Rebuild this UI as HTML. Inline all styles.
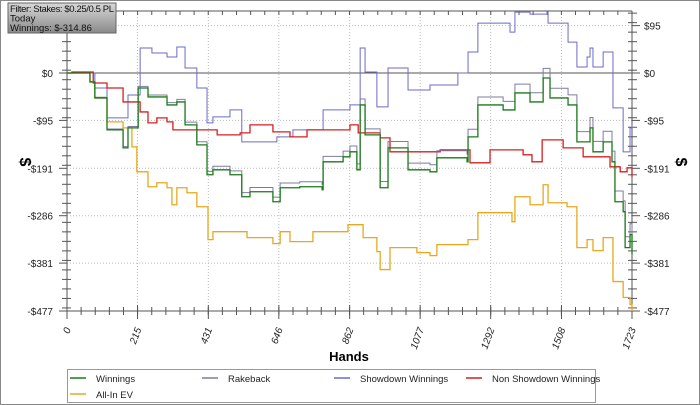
<!DOCTYPE html>
<html><head><meta charset="utf-8"><style>
body{margin:0;background:#fff;font-family:"Liberation Sans",sans-serif}
#wrap{position:relative;width:700px;height:405px;overflow:hidden}
</style></head><body>
<div id="wrap">
<svg id="chart" width="700" height="405" xmlns="http://www.w3.org/2000/svg">
<defs><linearGradient id="fg" x1="0" y1="0" x2="0" y2="1"><stop offset="0" stop-color="#d8d8d8"/><stop offset="1" stop-color="#8a8a8a"/></linearGradient></defs>
<rect x="0.5" y="0.5" width="699" height="404" fill="#fff" stroke="#888"/>
</svg>
</div>
<script>
const xTicks=[0,215,431,646,862,1077,1292,1508,1723];
const yTicks=[95,0,-95,-191,-286,-381,-477];
const yTickLabels=["$95","$0","-$95","-$191","-$286","-$381","-$477"];
const winHands=[0,70,85,122,171,186,217,247,305,335,360,396,427,445,497,533,558,628,650,710,778,781,842,863,884,894,909,955,979,1040,1107,1128,1220,1223,1253,1330,1366,1412,1452,1473,1528,1555,1595,1604,1635,1662,1671,1696,1702,1717,1723];
const winVals=[0,-18,-50,-114,-150,-110,-30,-48,-64,-58,-104,-144,-204,-194,-204,-248,-238,-258,-230,-228,-234,-178,-168,-158,-194,-64,-124,-230,-150,-194,-198,-170,-178,-128,-64,-74,-40,-58,-10,-50,-64,-138,-110,-158,-138,-178,-258,-278,-350,-324,-364];
const rbHands=[0,200,500,900,1200,1500,1723];
const rbVals=[0,3,8,12,15,20,22];
const sdHands=[0,70,85,122,186,223,259,305,335,360,396,427,445,497,533,640,689,781,863,894,909,945,979,1040,1107,1192,1223,1253,1351,1366,1412,1464,1467,1528,1555,1586,1595,1604,1635,1665,1696,1717,1723];
const sdVals=[0,0,-30,-90,-44,50,40,32,52,10,-30,-100,-88,-74,-138,-128,-114,-74,-64,50,2,-68,10,-34,-24,0,42,100,82,122,118,122,100,62,12,32,50,12,42,-70,-158,-110,-105];
const nsdHands=[0,15,80,122,171,223,247,274,305,323,406,458,528,558,628,680,732,863,888,903,955,985,1067,1138,1229,1290,1391,1418,1449,1513,1574,1656,1687,1708,1723];
const nsdVals=[0,2,-20,-30,-58,-78,-100,-90,-98,-114,-114,-124,-120,-104,-118,-128,-114,-104,-120,-120,-130,-158,-158,-154,-180,-154,-164,-178,-134,-150,-168,-188,-198,-190,-208];
const evHands=[0,70,85,122,171,198,213,247,274,305,320,335,366,396,430,445,549,628,650,680,750,857,903,945,955,985,1067,1107,1128,1223,1253,1357,1366,1412,1452,1467,1525,1555,1586,1604,1635,1665,1696,1717,1723];
const evVals=[0,-18,-50,-98,-110,-148,-198,-228,-220,-230,-264,-230,-240,-268,-334,-318,-330,-342,-318,-338,-318,-304,-330,-358,-394,-350,-360,-366,-344,-334,-280,-298,-248,-264,-224,-260,-268,-350,-334,-356,-330,-418,-450,-464,-477];

const NS="http://www.w3.org/2000/svg";
const svg=document.getElementById('chart');
const X0=67,X1=632,Y0=73,YB=311,YT=11;
function xs(h){return X0+h/1723*(X1-X0);}
function ys(v){return Y0-v*(YB-Y0)/477;}
function el(t,a,p){const e=document.createElementNS(NS,t);for(const k in a)e.setAttribute(k,a[k]);(p||svg).appendChild(e);return e;}

xTicks.forEach((t,i)=>{if(i>0&&i<xTicks.length-1){const g=el('line',{x1:xs(t),x2:xs(t),y1:YT,y2:YB,stroke:'#bbb','stroke-dasharray':'1,2'});

}});
yTicks.forEach(t=>{if(t!==0&&t!==-477){const g=el('line',{x1:X0,x2:X1,y1:ys(t),y2:ys(t),stroke:'#bbb','stroke-dasharray':'1,2'});

}});
const fr=el('path',{d:`M${X0},${YT}H${X1}M${X0},${YT}V${YB}H${X1}V${YT}`,stroke:'#555',fill:'none','stroke-width':1});


const zl=el('line',{x1:X0,x2:X1,y1:ys(0),y2:ys(0),stroke:'#555'});


for(let k=0;k<=40;k++){const x=X0+k*(X1-X0)/40;
 el('line',{x1:x,x2:x,y1:YB-4,y2:YB+4,stroke:'#555'});el('line',{x1:x,x2:x,y1:YT,y2:YT+4,stroke:'#555'});}
for(let v=120;v>=-477;v-=19.06){const y=ys(v);if(y<YT)continue;
 el('line',{x1:X0-5,x2:X0+4,y1:y,y2:y,stroke:'#555'});el('line',{x1:X1-4,x2:X1+5,y1:y,y2:y,stroke:'#555'});}
yTicks.forEach((t,i)=>{
 const a=el('text',{x:X0-14,y:ys(t)+4,'font-size':10,'text-anchor':'end',fill:'#222'});a.textContent=yTickLabels[i];
 
 
 const b=el('text',{x:X1+12,y:ys(t)+4,'font-size':10,fill:'#222'});b.textContent=yTickLabels[i];
 
 
 el('line',{x1:X0-8,x2:X0,y1:ys(t),y2:ys(t),stroke:'#555'});el('line',{x1:X1,x2:X1+8,y1:ys(t),y2:ys(t),stroke:'#555'});
});
xTicks.forEach(t=>{
 const x=xs(t);el('line',{x1:x,x2:x,y1:YB-6,y2:YB+8,stroke:'#555'});
 const a=el('text',{x:0,y:0,'font-size':10,'font-style':'italic','text-anchor':'end',fill:'#222',transform:`translate(${x+4},${YB+18}) rotate(-70)`});a.textContent=t;
 
 
});
function stepPath(H,V,off){let d='';for(let i=0;i<H.length;i++){const x=xs(H[i]),y=ys(V[i]+(off?off(H[i]):0));
 if(i===0)d+=`M${x},${y}`;else d+=`H${x}V${y}`;}return d;}
function rb(h){for(let i=1;i<rbHands.length;i++){if(h<=rbHands[i]){const f=(h-rbHands[i-1])/(rbHands[i]-rbHands[i-1]);return rbVals[i-1]+f*(rbVals[i]-rbVals[i-1]);}}return rbVals[rbVals.length-1];}
const s1=el('path',{d:stepPath(sdHands,sdVals),stroke:'#6b6bc8',fill:'none','stroke-width':1});


const s2=el('path',{d:stepPath(evHands,evVals),stroke:'#e8a81c',fill:'none','stroke-width':1.3});


const s3=el('path',{d:stepPath(nsdHands,nsdVals),stroke:'#d42020',fill:'none','stroke-width':1.3});


const s4=el('path',{d:stepPath(winHands,winVals,rb),stroke:'#7c7ca0',fill:'none','stroke-width':1});


const s5=el('path',{d:stepPath(winHands,winVals),stroke:'#1a7a1a',fill:'none','stroke-width':1.3});


const t1=el('text',{x:0,y:0,'font-size':16,'font-weight':'bold',transform:'translate(20,162) rotate(90)','text-anchor':'middle'});t1.textContent='$';


const t2=el('text',{x:0,y:0,'font-size':16,'font-weight':'bold',transform:'translate(676,162) rotate(90)','text-anchor':'middle'});t2.textContent='$';


const t3=el('text',{x:349,y:361,'font-size':13,'font-weight':'bold','text-anchor':'middle'});t3.textContent='Hands';


const fb=el('rect',{x:8,y:3,width:108,height:30,fill:'url(#fg)',stroke:'#666'});


['Filter: Stakes: $0.25/0.5 PL','Today','Winnings: $-314.86'].forEach((s,i)=>{const t=el('text',{x:10,y:12+i*9.5,'font-size':9.5,fill:'#111'});t.textContent=s;
 if(i===0)t.setAttribute('textLength','104');
 
 });
const lg=el('rect',{x:67.5,y:369.5,width:528,height:33,fill:'#fff',stroke:'#999'});


const legNames=['Winnings','Rakeback','Showdown Winnings','Non Showdown Winnings','All-In EV'];
const legColors=['#1a7a1a','#7c7ca0','#6b6bc8','#d42020','#e8a81c'];
legNames.forEach((n,i)=>{const x=70+(i%4)*132,y=i<4?378:394;
 el('line',{x1:x,x2:x+16,y1:y,y2:y,stroke:legColors[i],'stroke-width':1.5});
 const t=el('text',{x:x+26,y:y+4,'font-size':9.5,fill:'#222'});t.textContent=n;
 
 });
</script>
</body></html>
